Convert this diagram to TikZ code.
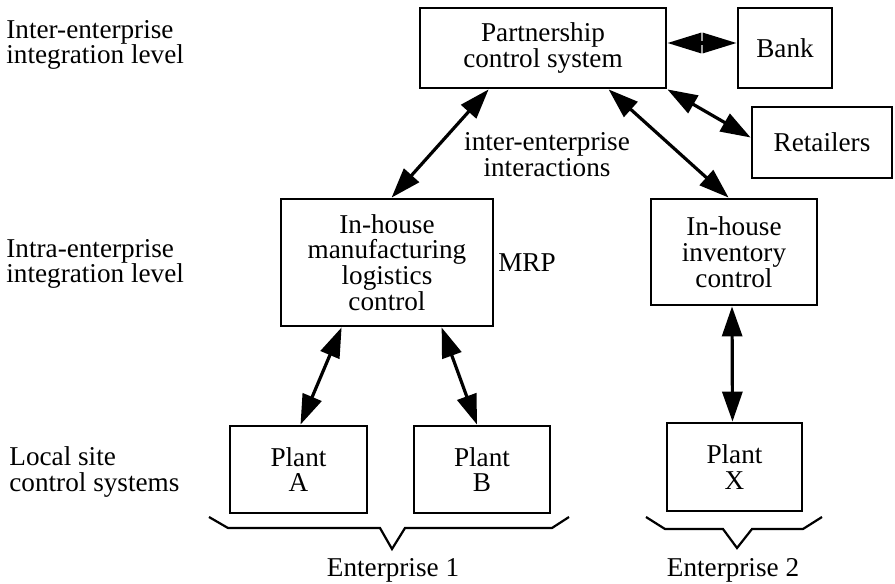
\documentclass[tikz,border=0pt]{standalone}
\usepackage{fontspec}
\setmainfont{Liberation Serif}
\usetikzlibrary{arrows.meta,calc}
\begin{document}
\begin{tikzpicture}[x=0.5pt,y=-0.5pt,
  txtfont/.style={font=\fontsize{13.6}{12.9}\selectfont},
  box/.style={draw, line width=1.4pt, align=center, inner sep=0pt, txtfont},
  lbl/.style={align=left, anchor=west, inner sep=0pt, txtfont},
  txt/.style={align=center, inner sep=0pt, txtfont},
  link/.style={line width=1.6pt, {Triangle[length=15pt,width=10pt]}-{Triangle[length=15pt,width=10pt]}},
  biglink/.style={line width=1.6pt, {Triangle[length=17pt,width=10pt]}-{Triangle[length=17pt,width=10pt]}},
  bracestyle/.style={line width=1.1pt, line join=miter}]
\useasboundingbox (0,0) rectangle (895,584);

% boxes
\node[box, minimum width=123pt, minimum height=40pt] (pcs) at (543,48) {Partnership\\control system};
\node[box, minimum width=47pt, minimum height=40pt] (bank) at (785,48) {Bank};
\node[box, minimum width=70pt, minimum height=35.5pt] (ret) at (822,142.5) {Retailers};
\node[box, minimum width=106pt, minimum height=63.5pt] (mfg) at (387,262.5) {In-house\\manufacturing\\logistics\\control};
\node[box, minimum width=83pt, minimum height=53pt] (inv) at (734,252) {In-house\\inventory\\control};
\node[box, minimum width=68.5pt, minimum height=43.5pt] (pA) at (298.5,469.5) {Plant\\A};
\node[box, minimum width=68pt, minimum height=43.5pt] (pB) at (482,469.5) {Plant\\B};
\node[box, minimum width=67.5pt, minimum height=44pt] (pX) at (734.5,467) {Plant\\X};

% level labels
\node[lbl] (l1) at (6,45) {Inter-enterprise\\integration level};
\node[lbl] (l2) at (6,264) {Intra-enterprise\\integration level};
\node[lbl] (l3) at (9,472) {Local site\\control systems};

% other texts
\node[txt] (iei) at (547,155) {inter-enterprise\\interactions};
\node[txt] (mrp) at (527,263) {MRP};
\node[txt] (e1) at (393,570) {Enterprise 1};
\node[txt] (e2) at (733,570) {Enterprise 2};

% connectors
\draw[biglink] ([yshift=2.5pt]pcs.east) -- ([yshift=2.5pt]bank.west);
\draw[link] (pcs.south east) -- ([yshift=2.5pt]ret.west);
\draw[link] ([xshift=35pt]pcs.south west) -- ([xshift=56pt]mfg.north west);
\draw[link] ([xshift=95pt]pcs.south west) -- ([xshift=39.5pt]inv.north west);
\draw[link] ([xshift=31pt]mfg.south west) -- ([xshift=1pt]pA.north);
\draw[link] ([xshift=81pt]mfg.south west) -- ([xshift=-2.5pt]pB.north);
\draw[link] ([xshift=-1pt]inv.south) -- ([xshift=-1pt]pX.north);

% braces
\draw[bracestyle] (209,517) -- (228,528) -- (380,528) -- (392,549) -- (405,528) -- (552,528) -- (569,517);
\draw[bracestyle] (646,517) -- (665,529) -- (723,529) -- (737,548) -- (752,529) -- (803,529) -- (822,517);
\end{tikzpicture}
\end{document}
